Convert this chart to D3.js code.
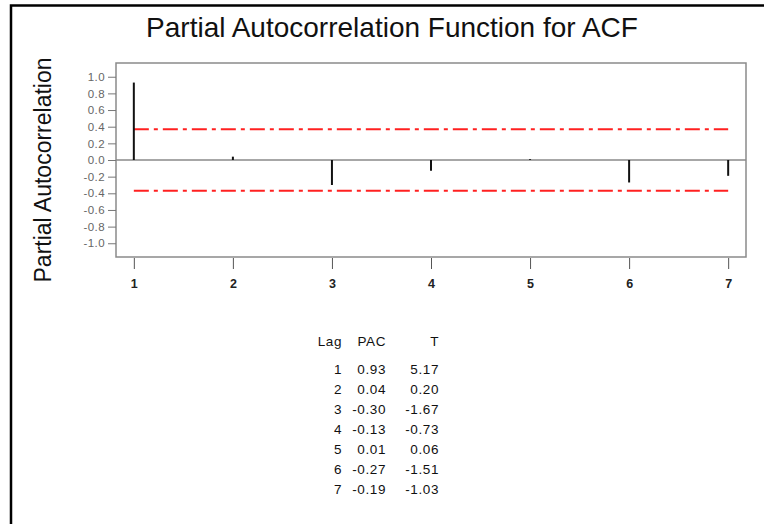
<!DOCTYPE html>
<html>
<head>
<meta charset="utf-8">
<script src="https://cdn.jsdelivr.net/npm/d3@7"></script>
<style>
  body { margin: 0; background: #fff; }
  svg { display: block; font-family: "Liberation Sans", Arial, sans-serif; }
</style>
</head>
<body>
<svg id="chart" width="764" height="524"></svg>
<script>
// values
const lags = [1, 2, 3, 4, 5, 6, 7];
const pac = [0.93, 0.04, -0.30, -0.13, 0.01, -0.27, -0.19];
const tStat = [5.17, 0.20, -1.67, -0.73, 0.06, -1.51, -1.03];
const limit = 0.37;
const yTicks = [1.0, 0.8, 0.6, 0.4, 0.2, 0.0, -0.2, -0.4, -0.6, -0.8, -1.0];

const svg = d3.select('#chart');

// plot box
const box = { left: 116, right: 746, top: 63, bottom: 257 };

const x = d3.scaleLinear()
            .domain([0.82, 7.18])
            .range([box.left, box.right]);

const y = d3.scaleLinear()
            .domain([-1.165, 1.165])
            .range([box.bottom, box.top]);

// outer frame (left + top only, like the screenshot)
svg.append('path')
   .attr('d', 'M11,524 V5.5 H764')
   .attr('fill', 'none')
   .attr('stroke', '#000')
   .attr('stroke-width', 2.5);

// title
svg.append('text')
   .attr('x', 392)
   .attr('y', 37)
   .attr('text-anchor', 'middle')
   .attr('font-size', 28)
   .attr('fill', '#111')
   .text('Partial Autocorrelation Function for ACF');

// y label
svg.append('text')
   .attr('transform', 'translate(51,170) rotate(-90)')
   .attr('text-anchor', 'middle')
   .attr('font-size', 23)
   .attr('fill', '#111')
   .text('Partial Autocorrelation');

// box
svg.append('rect')
   .attr('x', box.left)
   .attr('y', box.top)
   .attr('width', box.right - box.left)
   .attr('height', box.bottom - box.top)
   .attr('fill', 'none')
   .attr('stroke', '#8a8a8a')
   .attr('stroke-width', 1.5);

// zero line
svg.append('line')
   .attr('x1', box.left).attr('x2', box.right)
   .attr('y1', y(0)).attr('y2', y(0))
   .attr('stroke', '#8a8a8a')
   .attr('stroke-width', 1.5);

// y axis
const yAxis = svg.append('g')
   .attr('transform', `translate(${box.left},0)`)
   .call(d3.axisLeft(y)
           .tickValues(yTicks)
           .tickSize(8)
           .tickPadding(3)
           .tickFormat(d => d.toFixed(1)));
yAxis.select('.domain').remove();
yAxis.selectAll('line').attr('stroke', '#777');
yAxis.selectAll('text')
     .attr('font-size', 11.5)
     .attr('letter-spacing', 0.4)
     .attr('fill', '#666')
     .attr('font-family', '"Liberation Sans", Arial, sans-serif');

// x axis
const xAxis = svg.append('g')
   .attr('transform', `translate(0,${box.bottom + 1})`)
   .call(d3.axisBottom(x)
           .tickValues(lags)
           .tickSize(11)
           .tickPadding(10)
           .tickFormat(d3.format('d')));
xAxis.select('.domain').remove();
xAxis.selectAll('line').attr('stroke', '#555');
xAxis.selectAll('text')
     .attr('font-size', 12.5)
     .attr('font-weight', 'bold')
     .attr('fill', '#222')
     .attr('font-family', '"Liberation Sans", Arial, sans-serif');

// significance limits
svg.append('g')
   .selectAll('line')
   .data([limit, -limit])
   .join('line')
   .attr('x1', x(lags[0]))
   .attr('x2', x(lags[lags.length - 1]))
   .attr('y1', d => y(d))
   .attr('y2', d => y(d))
   .attr('stroke', '#ff2020')
   .attr('stroke-width', 2)
   .attr('stroke-dasharray', '15,5,4,5');

// spikes
svg.append('g')
   .selectAll('line')
   .data(lags)
   .join('line')
   .attr('x1', d => x(d))
   .attr('x2', d => x(d))
   .attr('y1', y(0))
   .attr('y2', (d, i) => y(pac[i]))
   .attr('stroke', '#111')
   .attr('stroke-width', 2);

// table under the chart
const table = svg.append('g')
   .attr('font-size', 13.5)
   .attr('letter-spacing', 0.6)
   .attr('fill', '#111');

const cols = [
  { head: 'Lag', right: 342, vals: lags.map(d => String(d)) },
  { head: 'PAC', right: 386, vals: pac.map(d => d.toFixed(2)) },
  { head: 'T', right: 439, vals: tStat.map(d => d.toFixed(2)) }
];

cols.forEach(c => {
  table.append('text')
       .attr('x', c.right)
       .attr('y', 346)
       .attr('text-anchor', 'end')
       .text(c.head);
  table.selectAll(null)
       .data(c.vals)
       .join('text')
       .attr('x', c.right)
       .attr('y', (d, i) => 374 + i * 20)
       .attr('text-anchor', 'end')
       .text(d => d);
});
</script>
</body>
</html>
